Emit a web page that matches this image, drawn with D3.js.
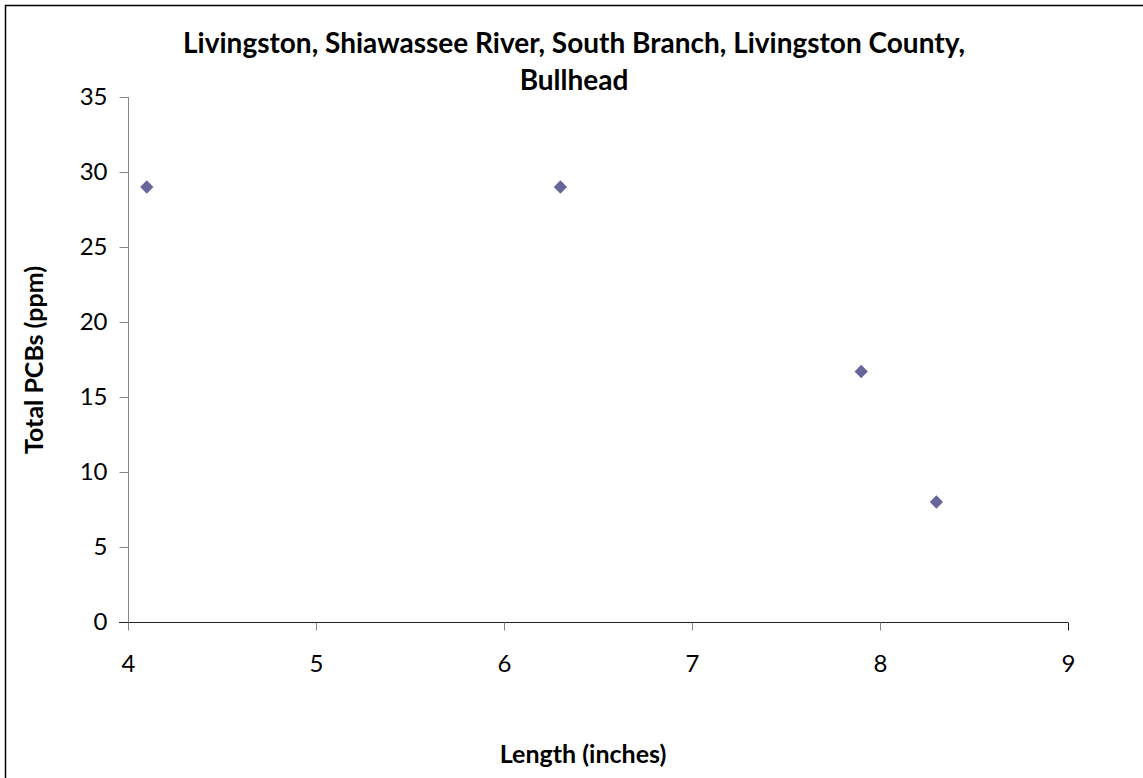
<!DOCTYPE html>
<html lang="en">
<head>
<meta charset="utf-8">
<title>Livingston, Bullhead PCBs</title>
<script src="https://cdn.jsdelivr.net/npm/d3@7"></script>
<style>
  body { margin: 0; background: #fff; }
  svg text { font-family: Lato, "Open Sans", sans-serif; fill: #000; }
</style>
</head>
<body>
<svg width="1143" height="778"></svg>
<script>
// data
var lengths = [4.1, 6.3, 7.9, 8.3];
var pcbs = [29, 29, 16.7, 8];
var xTicks = [4, 5, 6, 7, 8, 9];
var yTicks = [0, 5, 10, 15, 20, 25, 30, 35];
var titleLines = ["Livingston, Shiawassee River, South Branch, Livingston County,", "Bullhead"];

var svg = d3.select("svg");

// outer chart border (right and bottom edges run off the picture)
svg.append("rect")
  .attr("x", 5.5).attr("y", 5.5)
  .attr("width", 1300).attr("height", 1000)
  .attr("fill", "none").attr("stroke", "#000").attr("stroke-width", 1.5);

var x = d3.scaleLinear().domain([4, 9]).range([128, 1068]);
var y = d3.scaleLinear().domain([0, 35]).range([622, 97]);

// y axis
var yAxis = svg.append("g")
  .attr("transform", "translate(128.5,0)")
  .call(d3.axisLeft(y).tickValues(yTicks).tickSize(9).tickSizeOuter(0).tickPadding(12));
yAxis.select(".domain").attr("stroke", "#868686");
yAxis.selectAll(".tick line").attr("stroke", "#868686");
yAxis.selectAll("text").attr("font-size", 24).attr("fill", "#000");
yAxis.select(".domain").attr("d", "M0," + y(35) + "V" + (y(0) + 8));

// x axis
var xAxis = svg.append("g")
  .attr("transform", "translate(0," + (y(0) + 0.5) + ")")
  .call(d3.axisBottom(x).tickValues(xTicks).tickFormat(d3.format("d")).tickSize(8).tickSizeOuter(0).tickPadding(24));
xAxis.select(".domain").attr("stroke", "#222").attr("d", "M119,0H" + x(9));
xAxis.selectAll(".tick line").attr("stroke", "#868686");
xAxis.selectAll("text").attr("font-size", 24).attr("fill", "#000");
xAxis.selectAll(".tick").filter(function (d) { return d === 9; }).select("line").attr("stroke", "#222");

// points
var diamond = d3.symbol().type(d3.symbolSquare).size(88);
svg.append("g").selectAll("path")
  .data(lengths)
  .enter()
  .append("path")
  .attr("d", diamond)
  .attr("transform", function (d, i) {
    return "translate(" + x(d) + "," + y(pcbs[i]) + ") rotate(45)";
  })
  .attr("fill", "#666699");

// title
svg.append("g").selectAll("text")
  .data(titleLines)
  .enter()
  .append("text")
  .attr("x", 574)
  .attr("y", function (d, i) { return 53 + i * 37; })
  .attr("text-anchor", "middle")
  .attr("font-size", 28)
  .attr("font-weight", "bold")
  .text(function (d) { return d; });

// axis titles
svg.append("text")
  .attr("x", 583).attr("y", 763)
  .attr("text-anchor", "middle")
  .attr("font-size", 25).attr("font-weight", "bold")
  .text("Length (inches)");

svg.append("text")
  .attr("transform", "translate(43,360) rotate(-90)")
  .attr("text-anchor", "middle")
  .attr("font-size", 25).attr("font-weight", "bold")
  .text("Total PCBs (ppm)");
</script>
</body>
</html>
